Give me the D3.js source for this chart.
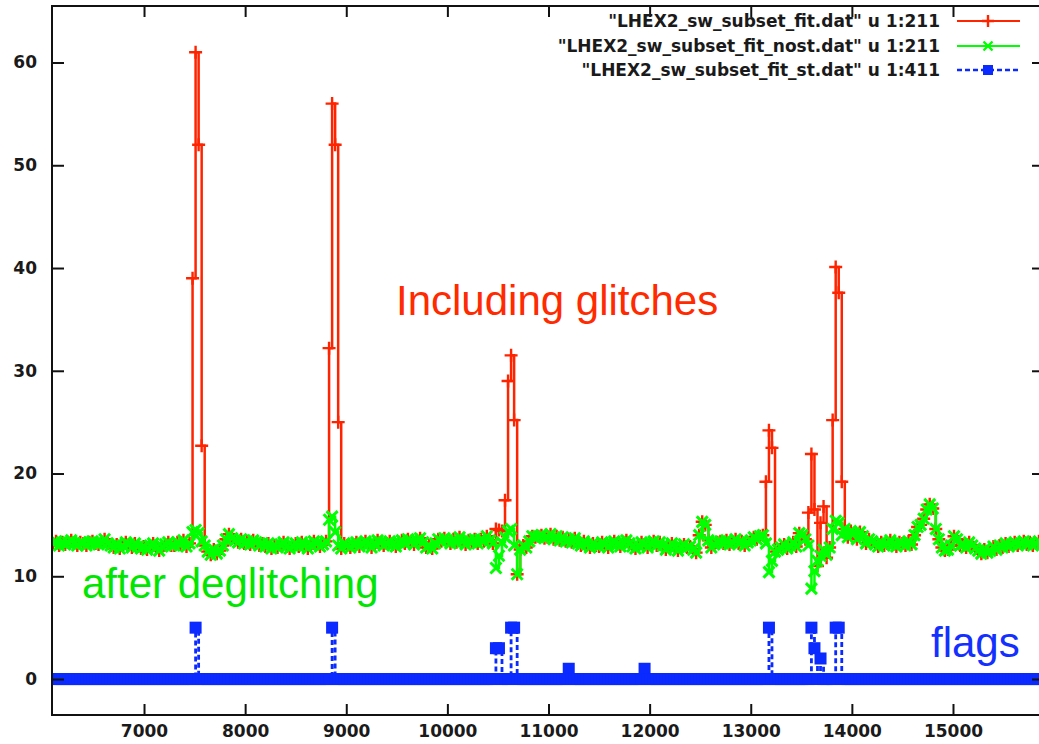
<!DOCTYPE html>
<html>
<head>
<meta charset="utf-8">
<script src="https://cdn.jsdelivr.net/npm/d3@7"></script>
<style>
  body { margin: 0; background: #fff; }
  svg { display: block; }
</style>
</head>
<body>
<svg id="chart" width="1039" height="744"></svg>
<script>
// Detector readout sampled every 30 time units from 6100.
const sampleStart = 6100;
const sampleStep = 30;

// Signal after deglitching (column 211 of the _nost file), one row per 300 units.
const deglitched = [
  13.2, 13.4, 13.0, 13.3, 13.1, 13.3, 13.5, 13.2, 13.0, 13.3, // 6100
  13.2, 13.0, 13.3, 13.4, 13.2, 13.1, 13.3, 13.6, 13.2, 13.0, // 6400
  12.8, 13.1, 12.7, 13.0, 13.3, 13.1, 12.8, 13.2, 12.9, 12.7, // 6700
  12.9, 12.6, 13.0, 13.2, 12.8, 12.5, 12.9, 13.1, 13.3, 13.0, // 7000
  13.0, 13.3, 13.1, 13.5, 12.9, 13.2, 14.3, 14.5, 14.2, 13.4, // 7300
  13.0, 12.4, 12.1, 12.6, 12.2, 12.5, 13.0, 13.6, 14.1, 13.7, // 7600
  13.5, 13.3, 13.6, 13.2, 13.4, 13.1, 13.5, 13.3, 13.0, 13.2, // 7900
  12.9, 13.2, 12.7, 13.0, 12.8, 13.1, 13.3, 12.9, 12.7, 13.0, // 8200
  13.2, 12.9, 13.3, 13.0, 12.7, 13.1, 13.4, 13.2, 12.9, 13.1, // 8500
  13.4, 15.5, 15.8, 14.3, 13.0, 12.7, 13.2, 13.0, 12.8, 13.1, // 8800
  13.3, 12.9, 13.2, 13.4, 13.1, 12.8, 13.2, 13.5, 13.3, 13.0, // 9100
  13.2, 13.4, 13.1, 12.9, 13.3, 13.5, 13.2, 13.6, 13.4, 13.1, // 9400
  13.5, 13.7, 13.3, 12.8, 13.0, 12.7, 13.2, 13.6, 13.4, 13.7, // 9700
  13.5, 13.2, 13.6, 13.3, 13.8, 13.4, 13.1, 13.5, 13.3, 13.6, // 10000
  13.2, 13.6, 13.4, 13.9, 13.5, 13.2, 10.8, 12.0, 13.3, 13.8, // 10300
  14.4, 14.6, 13.0, 10.2, 12.6, 13.0, 12.8, 13.4, 13.9, 13.8, // 10600
  13.9, 14.0, 13.7, 13.8, 14.1, 13.6, 13.9, 13.5, 13.8, 13.4, // 10900
  13.6, 13.3, 13.7, 13.2, 13.0, 13.4, 13.1, 12.8, 13.2, 13.0, // 11200
  12.9, 13.3, 13.1, 12.8, 13.2, 13.4, 13.1, 12.9, 13.3, 13.5, // 11500
  13.2, 12.9, 12.7, 13.0, 13.3, 13.1, 12.8, 13.2, 13.4, 13.0, // 11800
  13.3, 13.0, 12.6, 12.9, 13.2, 12.8, 12.5, 12.9, 13.1, 12.8, // 12100
  12.9, 12.6, 12.3, 14.0, 15.3, 15.0, 13.5, 12.8, 13.1, 13.3, // 12400
  13.4, 13.2, 13.5, 13.1, 13.3, 13.6, 13.2, 13.4, 13.0, 13.3, // 12700
  13.5, 13.8, 13.6, 13.9, 14.0, 13.2, 10.4, 11.5, 12.4, 12.6, // 13000
  12.8, 13.1, 12.7, 13.0, 13.3, 12.9, 14.2, 14.0, 13.6, 13.0, // 13300
   8.8, 10.5, 11.5, 12.0, 12.6, 12.1, 12.8, 14.6, 15.4, 15.2, // 13600
  14.0, 14.6, 13.8, 14.4, 14.2, 13.6, 14.3, 13.9, 13.2, 13.6, // 13900
  13.4, 13.1, 12.9, 13.3, 13.0, 13.2, 13.5, 13.1, 12.9, 13.3, // 14200
  13.2, 13.0, 13.4, 13.1, 14.0, 14.8, 15.0, 15.6, 16.5, 17.0, // 14500
  16.6, 14.6, 13.6, 12.8, 12.5, 12.6, 13.0, 13.9, 13.6, 13.0, // 14800
  13.1, 12.8, 13.3, 13.0, 12.7, 12.5, 12.2, 12.6, 12.3, 12.5, // 15100
  12.9, 12.6, 13.0, 12.8, 13.2, 12.9, 13.1, 13.3, 13.0, 13.2, // 15400
  13.4, 13.1, 13.3, 13.0, 13.2, 13.4, 13.1                    // 15700
];

// Raw readout (column 211 of the filtered file) where it differs from the deglitched one.
const rawGlitches = [
  [7480, 39.0], [7510, 61.0], [7540, 52.0], [7570, 22.7],
  [8830, 32.2], [8860, 56.0], [8890, 52.0], [8920, 25.0],
  [10480, 14.6], [10510, 14.5], [10540, 14.4], [10570, 17.4],
  [10600, 29.0], [10630, 31.5], [10660, 25.2],
  [13150, 19.2], [13180, 24.2], [13210, 22.5],
  [13570, 16.2], [13600, 21.9], [13630, 16.5], [13660, 11.0],
  [13690, 15.2], [13720, 16.8], [13750, 11.8],
  [13810, 25.2], [13840, 40.1], [13870, 37.6], [13900, 19.2]
];

// Glitch flags (column 411); every other sample is 0.
const flagSamples = [
  [7510, 5], [8860, 5], [10480, 3], [10510, 3], [10630, 5], [10660, 5],
  [11200, 1], [11950, 1], [13180, 5], [13600, 5], [13630, 3],
  [13690, 2], [13840, 5], [13870, 5]
];

const xTicks = [7000, 8000, 9000, 10000, 11000, 12000, 13000, 14000, 15000];
const yTicks = [0, 10, 20, 30, 40, 50, 60];

const legendLabels = [
  '"LHEX2_sw_subset_fit.dat" u 1:211',
  '"LHEX2_sw_subset_fit_nost.dat" u 1:211',
  '"LHEX2_sw_subset_fit_st.dat" u 1:411'
];

const annotations = [
  { text: "Including glitches", series: 0 },
  { text: "after deglitching", series: 1 },
  { text: "flags", series: 2 }
];

// ---------------------------------------------------------------------------

const frame = { left: 52, top: 6, right: 1044, bottom: 715 };

const colors = ["#ff2400", "#00ff00", "#0a2aff"];
const textColors = ["#ff2a00", "#00e600", "#1430ff"];

const sampleX = deglitched.map((_, i) => sampleStart + i * sampleStep);
const rawMap = new Map(rawGlitches);
const flagMap = new Map(flagSamples);

const rawSeries = sampleX.map((t, i) => [t, rawMap.has(t) ? rawMap.get(t) : deglitched[i]]);
const cleanSeries = sampleX.map((t, i) => [t, deglitched[i]]);
const flagSeries = sampleX.map(t => [t, flagMap.has(t) ? flagMap.get(t) : 0]);

const x = d3.scaleLinear().domain([6090, 15900]).range([frame.left, frame.right]);
const y = d3.scaleLinear().domain([-3.5, 65.5]).range([frame.bottom, frame.top]);

const svg = d3.select("#chart");

svg.append("defs").append("clipPath").attr("id", "plotArea")
  .append("rect")
  .attr("x", frame.left).attr("y", frame.top)
  .attr("width", frame.right - frame.left)
  .attr("height", frame.bottom - frame.top);

const plot = svg.append("g").attr("clip-path", "url(#plotArea)");

const stepLine = d3.line()
  .x(d => x(d[0]))
  .y(d => y(d[1]))
  .curve(d3.curveStepAfter);

const plusPath = s => `M${-s},0H${s}M0,${-s}V${s}`;
const crossPath = s => `M${-s},${-s}L${s},${s}M${-s},${s}L${s},${-s}`;
const SQ = 12;

function drawMarkers(g, data, kind, color) {
  if (kind === "square") {
    g.selectAll(null).data(data).join("rect")
      .attr("x", d => x(d[0]) - SQ / 2)
      .attr("y", d => y(d[1]) - SQ / 2)
      .attr("width", SQ).attr("height", SQ)
      .attr("fill", color);
  } else {
    g.selectAll(null).data(data).join("path")
      .attr("d", kind === "plus" ? plusPath(6.5) : crossPath(5.5))
      .attr("transform", d => `translate(${x(d[0])},${y(d[1])})`)
      .attr("fill", "none")
      .attr("stroke", color)
      .attr("stroke-width", kind === "plus" ? 2.4 : 3);
  }
}

// raw signal
const gRaw = plot.append("g");
gRaw.append("path").datum(rawSeries)
  .attr("d", stepLine).attr("fill", "none")
  .attr("stroke", colors[0]).attr("stroke-width", 2.5);
drawMarkers(gRaw, rawSeries, "plus", colors[0]);

// deglitched signal
const gClean = plot.append("g");
gClean.append("path").datum(cleanSeries)
  .attr("d", stepLine).attr("fill", "none")
  .attr("stroke", colors[1]).attr("stroke-width", 2.5);
drawMarkers(gClean, cleanSeries, "cross", colors[1]);

// flags
const gFlag = plot.append("g");
gFlag.append("path").datum(flagSeries)
  .attr("d", stepLine).attr("fill", "none")
  .attr("stroke", colors[2]).attr("stroke-width", 2.8)
  .attr("stroke-dasharray", "5,3");
drawMarkers(gFlag, flagSeries, "square", colors[2]);

// frame
svg.append("rect")
  .attr("x", frame.left).attr("y", frame.top)
  .attr("width", frame.right - frame.left)
  .attr("height", frame.bottom - frame.top)
  .attr("fill", "none").attr("stroke", "#111").attr("stroke-width", 2);

const tickFont = g => g
  .attr("font-family", "'DejaVu Sans', sans-serif")
  .attr("font-weight", "bold")
  .attr("font-size", 17);

function styleAxis(g) {
  g.select(".domain").remove();
  g.selectAll(".tick line").attr("stroke", "#111").attr("stroke-width", 2);
  g.selectAll(".tick text").attr("fill", "#1a1a1a");
  tickFont(g);
}

svg.append("g")
  .attr("transform", `translate(0,${frame.bottom})`)
  .call(d3.axisBottom(x).tickValues(xTicks).tickSizeInner(-11).tickSizeOuter(0).tickPadding(10).tickFormat(d3.format("d")))
  .call(styleAxis);

svg.append("g")
  .attr("transform", `translate(0,${frame.top})`)
  .call(d3.axisTop(x).tickValues(xTicks).tickSizeInner(-11).tickSizeOuter(0).tickFormat(""))
  .call(styleAxis);

svg.append("g")
  .attr("transform", `translate(${frame.left},0)`)
  .call(d3.axisLeft(y).tickValues(yTicks).tickSizeInner(-12).tickSizeOuter(0).tickPadding(15).tickFormat(d3.format("d")))
  .call(styleAxis);

svg.append("g")
  .attr("transform", `translate(${frame.right},0)`)
  .call(d3.axisRight(y).tickValues(yTicks).tickSizeInner(-12).tickSizeOuter(0).tickFormat(""))
  .call(styleAxis);

// legend
const legendRows = [21, 46, 70];
const kinds = ["plus", "cross", "square"];
legendLabels.forEach((label, i) => {
  const row = svg.append("g").attr("transform", `translate(0,${legendRows[i]})`);
  row.append("text")
    .attr("x", 940).attr("dy", "0.36em")
    .attr("text-anchor", "end")
    .attr("fill", "#1a1a1a")
    .call(tickFont)
    .text(label);
  row.append("line")
    .attr("x1", 957).attr("x2", 1020)
    .attr("stroke", colors[i]).attr("stroke-width", i === 2 ? 2.4 : 2.2)
    .attr("stroke-dasharray", i === 2 ? "5,3" : null);
  const m = row.append("g").attr("transform", "translate(988,0)");
  if (kinds[i] === "square") {
    m.append("rect").attr("x", -5).attr("y", -5).attr("width", 10).attr("height", 10).attr("fill", colors[i]);
  } else {
    m.append("path")
      .attr("d", kinds[i] === "plus" ? plusPath(6) : crossPath(4.5))
      .attr("fill", "none").attr("stroke", colors[i]).attr("stroke-width", 2.4);
  }
});

// annotations
const annotationPos = [
  { x: 396, y: 315 },
  { x: 82, y: 598 },
  { x: 931, y: 657 }
];
annotations.forEach((a, i) => {
  svg.append("text")
    .attr("x", annotationPos[i].x).attr("y", annotationPos[i].y)
    .attr("font-family", "'Liberation Sans', Arial, sans-serif")
    .attr("font-size", 42)
    .attr("fill", textColors[a.series])
    .text(a.text);
});
</script>
</body>
</html>
